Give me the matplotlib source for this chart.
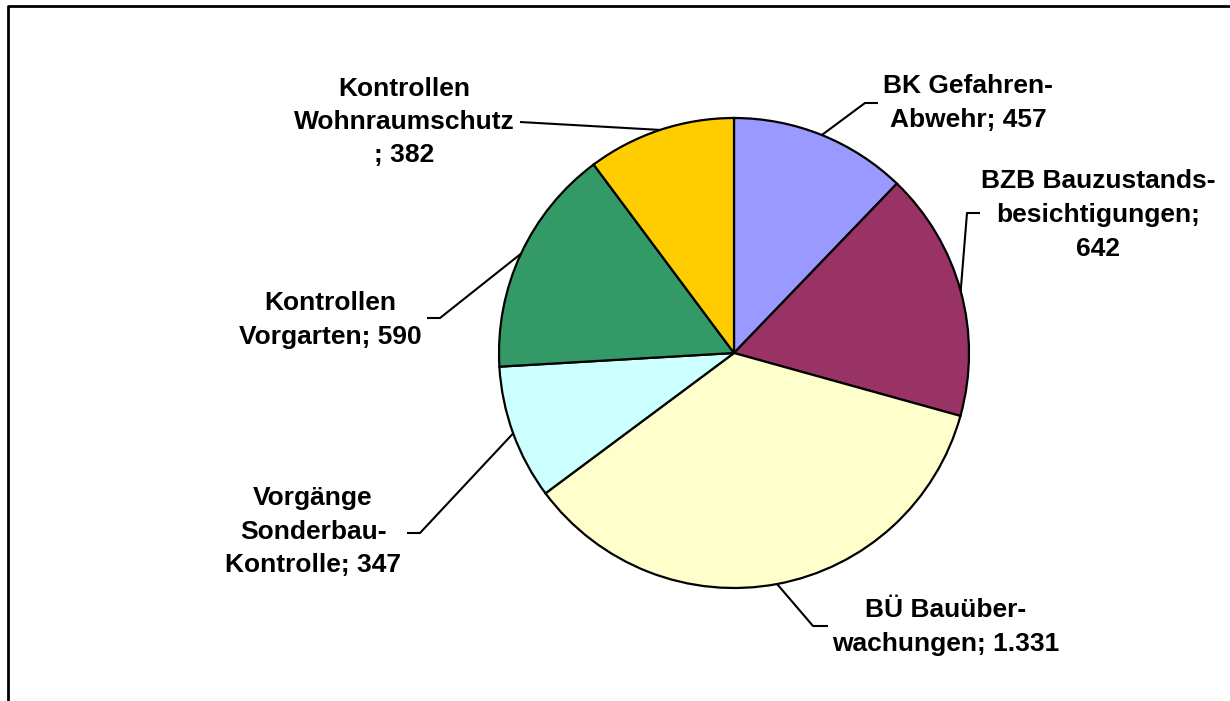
import numpy as np
import matplotlib
matplotlib.use('Agg')
import matplotlib.pyplot as plt
from matplotlib.lines import Line2D

plt.rcParams['font.family'] = ['Liberation Sans', 'DejaVu Sans']

labels = ['BK Gefahren-\nAbwehr; 457',
          'BZB Bauzustands-\nbesichtigungen;\n642',
          'BÜ Bauüber-\nwachungen; 1.331',
          'Vorgänge\nSonderbau-\nKontrolle; 347',
          'Kontrollen\nVorgarten; 590',
          'Kontrollen\nWohnraumschutz\n; 382']
values = [457, 642, 1331, 347, 590, 382]
colors = ['#9999FF', '#993366', '#FFFFCC', '#CCFFFF', '#339966', '#FFCC00']

# layout in pixel units (y from top): text centre, elbow point, line end
text_pos = [(968, 103), (1098, 215), (946, 627), (313, 532), (330, 320), (404, 122)]
elbow = [(865, 103), (967, 213), (813, 626), (420, 533), (440, 318), (520, 122)]
line_end = [(878, 103), (980, 213), (828, 626), (407, 533), (427, 318), (520, 122)]

W, H = 1230, 701
cx, cy, r = 734, 353, 235

fig = plt.figure(figsize=(W / 100, H / 100), dpi=100)
ax = fig.add_axes([0, 0, 1, 1])

wedges, _ = ax.pie(values, colors=colors, startangle=90, counterclock=False,
                   center=(cx, H - cy), radius=r,
                   wedgeprops=dict(edgecolor='black', linewidth=1.6))
ax.set_xlim(0, W)
ax.set_ylim(0, H)
ax.set_aspect('equal')
ax.axis('off')

for w, lab, tp, el, le in zip(wedges, labels, text_pos, elbow, line_end):
    mid = np.deg2rad((w.theta1 + w.theta2) / 2)
    sx = cx + r * np.cos(mid)
    sy = (H - cy) + r * np.sin(mid)
    ax.plot([sx, el[0], le[0]], [sy, H - el[1], H - le[1]],
            color='black', lw=1.5, solid_capstyle='butt')
    ax.text(tp[0], H - tp[1], lab, ha='center', va='center',
            multialignment='center', fontsize=19, fontweight='bold',
            linespacing=1.5)

# chart frame (only left and top edges visible)
fig.add_artist(Line2D([8 / W, 8 / W, 1.0], [0.0, 1 - 6 / H, 1 - 6 / H],
                      transform=fig.transFigure, color='black', lw=2))

fig.savefig('out.png', dpi=100)
